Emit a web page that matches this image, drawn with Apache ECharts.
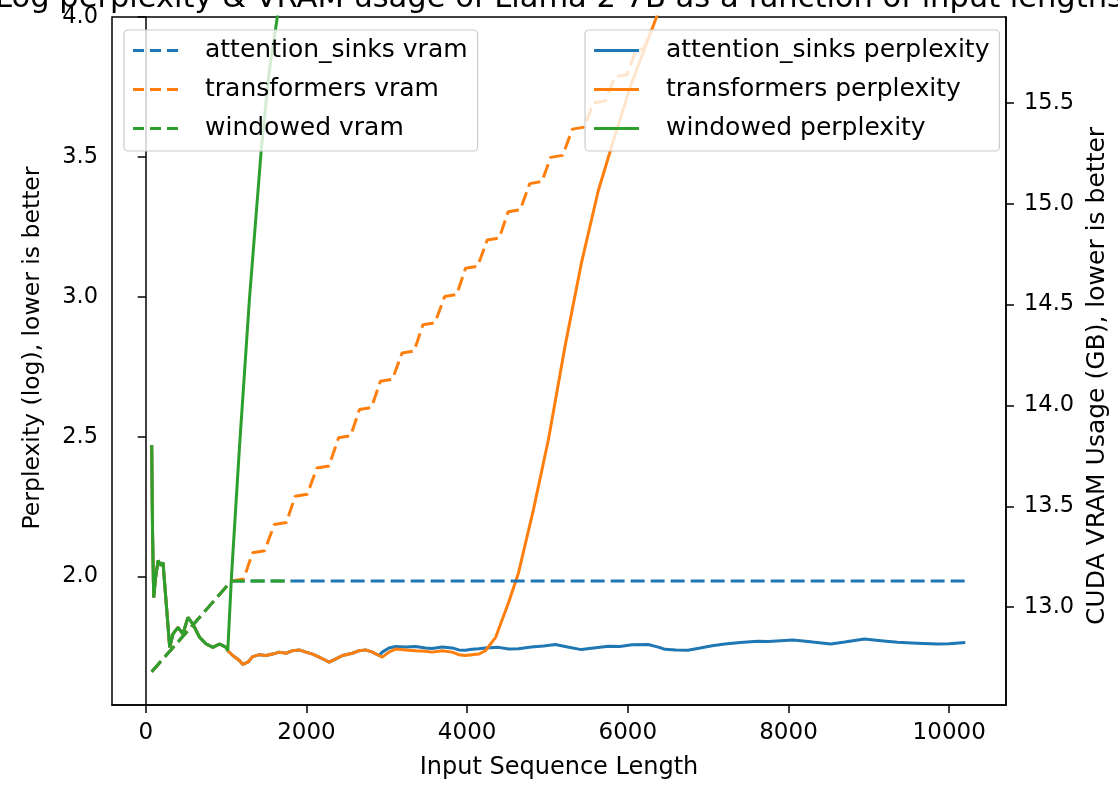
<!DOCTYPE html>
<html>
<head>
<meta charset="utf-8">
<script src="https://cdn.jsdelivr.net/npm/echarts@6/dist/echarts.min.js"></script>
<style>
html,body{margin:0;padding:0;background:#fff;}
#chart{width:1118px;height:785px;}
</style>
</head>
<body>
<div id="chart"></div>
<script>
// ---- tick labels ----
const xTicks = [0, 2000, 4000, 6000, 8000, 10000];
const pplTicks = [2.0, 2.5, 3.0, 3.5, 4.0];
const vramTicks = [13.0, 13.5, 14.0, 14.5, 15.0, 15.5];

// ---- perplexity (log), shared start for all three runs (before window fills) ----
const earlyPerplexity = [
  [74, 2.47], [85, 2.15], [99, 1.925], [120, 1.99], [153, 2.057], [190, 2.04], [215, 2.05],
  [256, 1.90], [298, 1.747], [339, 1.795], [401, 1.818], [463, 1.795], [525, 1.854],
  [587, 1.83], [670, 1.783], [753, 1.759], [835, 1.747], [918, 1.759], [1001, 1.747], [1021, 1.735]
];

// windowed perplexity after the window is exceeded
const windowedPerplexityLate = [
  [1030, 1.74], [1067, 2.0], [1166, 2.46], [1290, 2.99], [1439, 3.53], [1538, 3.81], [1638, 4.0], [1810, 4.5]
];

// shared by attention_sinks and transformers until ~2900 tokens
const commonPerplexityMid = [
  [1083, 1.718], [1166, 1.700], [1208, 1.686], [1270, 1.694], [1332, 1.714], [1414, 1.721],
  [1497, 1.718], [1580, 1.723], [1663, 1.730], [1745, 1.726], [1828, 1.735], [1911, 1.738],
  [1994, 1.730], [2076, 1.723], [2159, 1.712], [2242, 1.700], [2283, 1.694], [2366, 1.706],
  [2448, 1.718], [2572, 1.726], [2655, 1.735], [2738, 1.738], [2820, 1.730], [2903, 1.718]
];

const transformersPerplexityLate = [
  [2944, 1.712], [3027, 1.730], [3110, 1.741], [3234, 1.738], [3358, 1.735], [3482, 1.733],
  [3565, 1.730], [3689, 1.735], [3813, 1.730], [3896, 1.721], [3979, 1.718], [4061, 1.721],
  [4144, 1.723], [4227, 1.735], [4355, 1.783], [4516, 1.907], [4640, 2.014], [4826, 2.24],
  [5012, 2.49], [5223, 2.83], [5422, 3.12], [5633, 3.38], [5844, 3.58], [6042, 3.76],
  [6253, 3.92], [6370, 4.01]
];

const sinksPerplexityLate = [
  [2944, 1.730], [3027, 1.745], [3110, 1.750], [3234, 1.748], [3358, 1.750], [3482, 1.745],
  [3565, 1.743], [3689, 1.748], [3813, 1.745], [3896, 1.738], [3979, 1.737], [4061, 1.740],
  [4144, 1.742], [4227, 1.745], [4392, 1.747], [4520, 1.741], [4640, 1.742], [4800, 1.748],
  [4950, 1.752], [5099, 1.757], [5250, 1.748], [5422, 1.739], [5600, 1.746], [5757, 1.751],
  [5900, 1.750], [6050, 1.756], [6253, 1.757], [6380, 1.748], [6464, 1.740], [6600, 1.738],
  [6749, 1.737], [6900, 1.745], [7050, 1.753], [7208, 1.759], [7400, 1.764], [7618, 1.769],
  [7750, 1.768], [7903, 1.771], [8050, 1.773], [8151, 1.771], [8300, 1.766], [8524, 1.759],
  [8700, 1.766], [8945, 1.777], [9150, 1.771], [9355, 1.765], [9600, 1.762], [9851, 1.759],
  [10000, 1.760], [10200, 1.764]
];

// ---- CUDA VRAM usage (GB) ----
const vramRamp = [[74, 12.68], [1067, 13.13]];
const windowedVramFlat = [[1811, 13.13]];
const sinksVramFlat = [[10200, 13.13]];
const transformersVramLate = [
  [1220, 13.14], [1330, 13.27], [1480, 13.28], [1600, 13.41], [1750, 13.42], [1860, 13.55],
  [2010, 13.56], [2130, 13.69], [2280, 13.70], [2400, 13.84], [2550, 13.85], [2660, 13.98],
  [2810, 13.99], [2920, 14.12], [3070, 14.13], [3190, 14.26], [3340, 14.27], [3450, 14.40],
  [3600, 14.41], [3720, 14.54], [3870, 14.55], [3980, 14.68], [4130, 14.69], [4250, 14.82],
  [4400, 14.83], [4510, 14.96], [4660, 14.97], [4780, 15.10], [4930, 15.11], [5040, 15.23],
  [5190, 15.24], [5310, 15.37], [5460, 15.38], [5570, 15.50], [5720, 15.51], [5840, 15.63],
  [5990, 15.64], [6100, 15.76], [6200, 15.77], [6290, 15.86]
];

const C_BLUE = '#1f77b4', C_ORANGE = '#ff7f0e', C_GREEN = '#2ca02c';
const FONT = 'DejaVu Sans';
const DASH = [14, 6];
const ICON_DASHED = 'path://M0,0h11v3h-11z M17,0h11v3h-11z M34,0h11v3h-11z';
const ICON_SOLID = 'path://M0,0h45v3h-45z';

const chart = echarts.init(document.getElementById('chart'), null, {renderer: 'canvas'});

function lineSeries(name, data, color, yIdx, dashed) {
  return {
    name: name, type: 'line', data: data, xAxisIndex: 0, yAxisIndex: yIdx,
    symbol: 'none', showSymbol: false, smooth: false, clip: true, animation: false,
    lineStyle: {color: color, width: dashed ? 3 : 3, type: dashed ? DASH : 'solid'},
    itemStyle: {color: color},
    emphasis: {disabled: true}
  };
}

const legendCommon = {
  orient: 'vertical', itemWidth: 45, itemHeight: 3, itemGap: 14,
  padding: [8, 10, 10, 9], borderColor: '#cccccc', borderWidth: 1.2, borderRadius: 4,
  backgroundColor: 'rgba(255,255,255,0.8)', selectedMode: false,
  textStyle: {fontFamily: FONT, fontSize: 25, color: '#000', padding: [0, 0, 0, 22], lineHeight: 25}
};

const axisCommonLine = {show: true, lineStyle: {color: '#000', width: 1.5}};

chart.setOption({
  backgroundColor: '#fff',
  animation: false,
  title: {
    text: 'Log perplexity & VRAM usage of Llama 2 7B as a function of input lengths',
    left: 'center', top: -21,
    textStyle: {fontFamily: FONT, fontSize: 30.5, fontWeight: 'normal', color: '#000'}
  },
  grid: {left: 112, right: 109, top: 17, bottom: 77, show: true, borderColor: '#000', borderWidth: 1.5, backgroundColor: 'transparent'},
  legend: [
    Object.assign({}, legendCommon, {left: 124, top: 30,
      data: [
        {name: 'attention_sinks vram', icon: ICON_DASHED},
        {name: 'transformers vram', icon: ICON_DASHED},
        {name: 'windowed vram', icon: ICON_DASHED}
      ]}),
    Object.assign({}, legendCommon, {left: 585, top: 30,
      data: [
        {name: 'attention_sinks perplexity', icon: ICON_SOLID},
        {name: 'transformers perplexity', icon: ICON_SOLID},
        {name: 'windowed perplexity', icon: ICON_SOLID}
      ]})
  ],
  xAxis: {
    type: 'value', min: -420, max: 10707,
    name: 'Input Sequence Length', nameLocation: 'middle', nameGap: 51,
    nameTextStyle: {fontFamily: FONT, fontSize: 24, color: '#000'},
    axisLine: axisCommonLine,
    axisTick: {show: true, length: 8, lineStyle: {color: '#000', width: 1.5}, customValues: xTicks},
    axisLabel: {show: true, margin: 17, fontFamily: FONT, fontSize: 23, color: '#000', customValues: xTicks,
      formatter: v => String(v)},
    splitLine: {show: false}
  },
  yAxis: [
    {
      type: 'value', position: 'left', min: 1.541, max: 4.0,
      name: 'Perplexity (log), lower is better', nameLocation: 'middle', nameGap: 67, nameRotate: 90,
      nameTextStyle: {fontFamily: FONT, fontSize: 23.5, color: '#000', padding: [0, 0, 0, 26]},
      axisLine: axisCommonLine,
      axisTick: {show: true, length: 8, lineStyle: {color: '#000', width: 1.5}, customValues: pplTicks},
      axisLabel: {show: true, margin: 14, fontFamily: FONT, fontSize: 22.5, color: '#000', customValues: pplTicks,
        formatter: v => Number(v).toFixed(1)},
      splitLine: {show: false}
    },
    {
      type: 'value', position: 'right', min: 12.515, max: 15.926,
      name: 'CUDA VRAM Usage (GB), lower is better', nameLocation: 'middle', nameGap: 78, nameRotate: 90,
      nameTextStyle: {fontFamily: FONT, fontSize: 25, color: '#000', padding: [0, 30, 0, 0]},
      axisLine: axisCommonLine,
      axisTick: {show: true, length: 8, lineStyle: {color: '#000', width: 1.5}, customValues: vramTicks},
      axisLabel: {show: true, margin: 18, fontFamily: FONT, fontSize: 22.5, color: '#000', customValues: vramTicks,
        formatter: v => Number(v).toFixed(1)},
      splitLine: {show: false}
    }
  ],
  series: [
    lineSeries('attention_sinks perplexity', earlyPerplexity.concat(commonPerplexityMid, sinksPerplexityLate), C_BLUE, 0, false),
    lineSeries('transformers perplexity', earlyPerplexity.concat(commonPerplexityMid, transformersPerplexityLate), C_ORANGE, 0, false),
    lineSeries('windowed perplexity', earlyPerplexity.concat(windowedPerplexityLate), C_GREEN, 0, false),
    lineSeries('attention_sinks vram', vramRamp.concat(sinksVramFlat), C_BLUE, 1, true),
    lineSeries('transformers vram', vramRamp.concat(transformersVramLate), C_ORANGE, 1, true),
    lineSeries('windowed vram', vramRamp.concat(windowedVramFlat), C_GREEN, 1, true)
  ]
});
</script>
</body>
</html>
